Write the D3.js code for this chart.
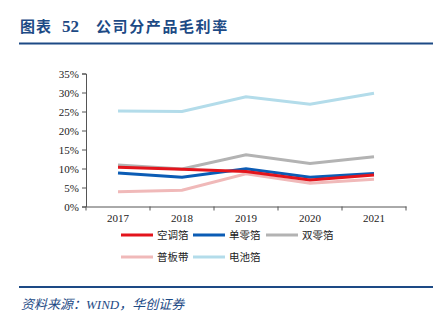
<!DOCTYPE html>
<html>
<head>
<meta charset="utf-8">
<script src="https://cdn.jsdelivr.net/npm/d3@7"></script>
<style>
  body { margin: 0; background: #fff; }
  svg { display: block; }
</style>
</head>
<body>
<svg id="chart"></svg>
<script>
// Years and gross margin (%) per product line
const years = ["2017", "2018", "2019", "2020", "2021"];
const airFoil = [10.3, 9.8, 9.2, 7.0, 8.3];
const singleZeroFoil = [8.8, 7.7, 9.9, 7.7, 8.7];
const doubleZeroFoil = [10.9, 9.9, 13.6, 11.3, 13.1];
const plateStrip = [3.9, 4.3, 8.6, 6.1, 7.2];
const batteryFoil = [25.1, 25.0, 28.9, 26.9, 29.8];
const yTicks = [0, 5, 10, 15, 20, 25, 30, 35];

const seriesNames = ["空调箔", "单零箔", "双零箔", "普板带", "电池箔"];
const seriesValues = [airFoil, singleZeroFoil, doubleZeroFoil, plateStrip, batteryFoil];
const colors = ["#e3141c", "#0b5cb5", "#b3b3b3", "#f0b9b9", "#b3dcea"];

const Width = 437;
const Height = 322;
const navy = "#1d4a85";

const svg = d3.select("#chart")
  .attr("width", Width)
  .attr("height", Height);

// Header: title pieces and rule
const titleParts = [
  { x: 20, text: "图表", spacing: 1 },
  { x: 62, text: "52", spacing: 0 },
  { x: 96, text: "公司分产品毛利率", spacing: 1.6 }
];

svg.selectAll(".title")
  .data(titleParts)
  .enter()
  .append("text")
  .attr("class", "title")
  .attr("x", d => d.x)
  .attr("y", 32)
  .style("font-family", d => d.text === "52" ? "'Liberation Serif', serif" : "'Noto Sans CJK SC'")
  .style("font-weight", "bold")
  .style("font-size", d => d.text === "52" ? "17px" : "15px")
  .style("letter-spacing", d => d.spacing + "px")
  .style("fill", navy)
  .text(d => d.text);

svg.append("line")
  .attr("x1", 19).attr("x2", 433)
  .attr("y1", 43.5).attr("y2", 43.5)
  .style("stroke", navy)
  .style("stroke-width", 2);

// Scales
const xScale = d3.scaleBand()
  .domain(years)
  .range([86, 406]);

const yScale = d3.scaleLinear()
  .domain([0, 35])
  .range([206.5, 73.5]);

// Y axis
const yAxis = svg.append("g")
  .attr("transform", "translate(86,0)")
  .call(d3.axisLeft(yScale).tickValues(yTicks).tickSize(4).tickFormat(d => d + "%"));

// X axis with ticks at band edges
const xAxis = svg.append("g")
  .attr("transform", "translate(0,206.5)")
  .call(d3.axisBottom(xScale).tickSize(0).tickPadding(8));

xAxis.selectAll(".edge")
  .data(d3.range(years.length + 1))
  .enter()
  .append("line")
  .attr("class", "edge")
  .attr("x1", i => 86 + i * xScale.bandwidth())
  .attr("x2", i => 86 + i * xScale.bandwidth())
  .attr("y1", 0)
  .attr("y2", 4)
  .style("stroke", "#555");

[yAxis, xAxis].forEach(g => {
  g.select(".domain").style("stroke", "#555");
  g.selectAll(".tick line").style("stroke", "#555");
  g.selectAll("text")
    .style("font-family", "'Liberation Serif', 'Times New Roman', serif")
    .style("font-size", "11px")
    .style("fill", "#222");
});

// Lines
const line = d3.line()
  .x((d, i) => xScale(years[i]) + xScale.bandwidth() / 2)
  .y(d => yScale(d));

// draw lower-priority series first so the red/blue sit on top
const drawOrder = [4, 3, 2, 1, 0];
svg.selectAll(".series")
  .data(drawOrder)
  .enter()
  .append("path")
  .attr("class", "series")
  .attr("d", k => line(seriesValues[k]))
  .style("fill", "none")
  .style("stroke", k => colors[k])
  .style("stroke-width", 3);

// Legend
const legendPos = [
  [121, 235], [193, 235], [266, 235],
  [121, 257], [193, 257]
];

const legend = svg.selectAll(".legend")
  .data(seriesNames)
  .enter()
  .append("g")
  .attr("class", "legend")
  .attr("transform", (d, i) => `translate(${legendPos[i][0]}, ${legendPos[i][1]})`);

legend.append("line")
  .attr("x1", 0).attr("x2", 32)
  .attr("y1", 0).attr("y2", 0)
  .style("stroke", (d, i) => colors[i])
  .style("stroke-width", 3);

legend.append("text")
  .attr("x", 36)
  .attr("y", 0)
  .attr("dy", "0.35em")
  .style("font-family", "'Noto Sans CJK SC'")
  .style("font-size", "10.5px")
  .style("fill", "#222")
  .text(d => d);

// Footer: rule and source
svg.append("line")
  .attr("x1", 19).attr("x2", 433)
  .attr("y1", 287).attr("y2", 287)
  .style("stroke", navy)
  .style("stroke-width", 2);

svg.append("text")
  .attr("x", 21)
  .attr("y", 309)
  .style("font-family", "'Liberation Serif', 'Noto Sans CJK SC', serif")
  .style("font-style", "italic")
  .style("font-size", "13px")
  .style("fill", navy)
  .text("资料来源：WIND，华创证券");
</script>
</body>
</html>
